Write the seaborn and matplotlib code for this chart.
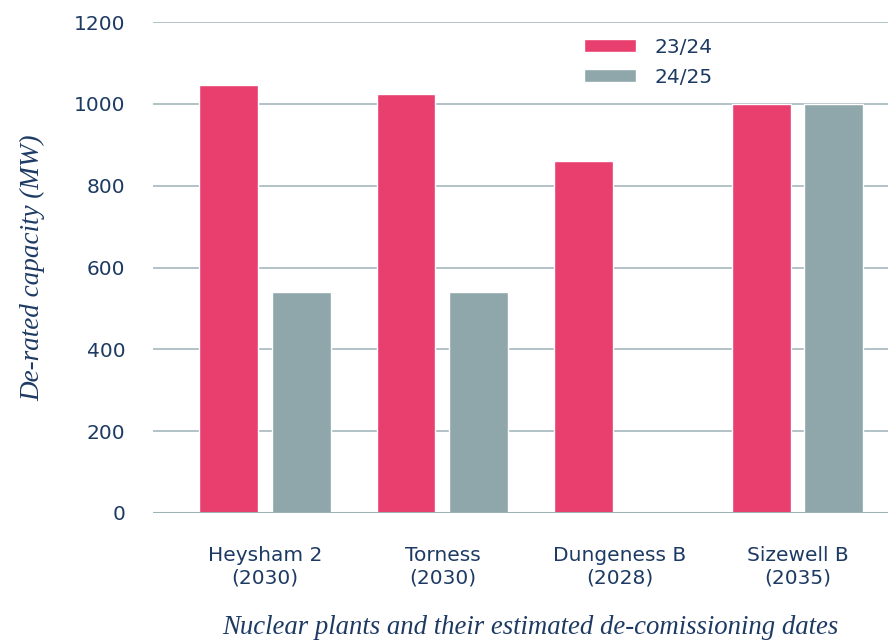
import matplotlib
matplotlib.use("Agg")
import matplotlib.pyplot as plt
import seaborn as sns
import pandas as pd

plants = ["Heysham 2\n(2030)", "Torness\n(2030)", "Dungeness B\n(2028)", "Sizewell B\n(2035)"]
cap_2324 = [1045, 1024, 860, 1000]
cap_2425 = [540, 540, 0, 1000]
series = ["23/24", "24/25"]
yticks = [0, 200, 400, 600, 800, 1000, 1200]

df = pd.DataFrame({
    "plant": plants * 2,
    "year": [series[0]] * 4 + [series[1]] * 4,
    "cap": cap_2324 + cap_2425,
})

sns.set_theme(style="white")
plt.rcParams["font.family"] = ["DejaVu Sans"]
navy = "#1d3a63"
grid_c = "#9db2b6"
serif = ["Liberation Serif", "DejaVu Serif"]

fig = plt.figure(figsize=(8.88, 6.41), dpi=100)
ax = fig.add_axes([153/888, 128/641, 735/888, 491/641])

sns.barplot(data=df, x="plant", y="cap", hue="year", order=plants, hue_order=series,
            palette=["#e83f6f", "#8fa7ab"], width=0.82, gap=0.19, saturation=1,
            ax=ax, zorder=3)

ax.set_ylim(0, 1200)
ax.set_xlim(-0.63, 3.51)
ax.set_yticks(yticks)
ax.set_yticklabels([str(v) for v in yticks])
for v in yticks:
    ax.axhline(v, color=grid_c, lw=2.2 if v == 0 else 1.1, zorder=(4 if v == 0 else 1))
for s in ax.spines.values():
    s.set_visible(False)
ax.tick_params(axis="y", length=0, pad=20, labelsize=14.5, labelcolor=navy)
ax.tick_params(axis="x", length=0, pad=24, labelsize=14.5, labelcolor=navy)
for t in ax.get_xticklabels():
    t.set_linespacing(1.2)

ax.set_ylabel("De-rated capacity (MW)", family=serif,
              style="italic", fontsize=19.5, color=navy)
ax.set_xlabel("Nuclear plants and their estimated de-comissioning dates",
              family=serif, style="italic",
              fontsize=19.3, color=navy, labelpad=20)
ax.yaxis.set_label_coords(-0.147, 0.5)
ax.xaxis.label.set_x(0.514)

leg = ax.legend(loc="upper left", bbox_to_anchor=(0.562, 1.005), frameon=False,
                fontsize=14.5, handlelength=2.55, handleheight=0.65, handletextpad=0.95,
                labelspacing=0.55)
for t in leg.get_texts():
    t.set_color(navy)

fig.savefig("out.png", dpi=100)
